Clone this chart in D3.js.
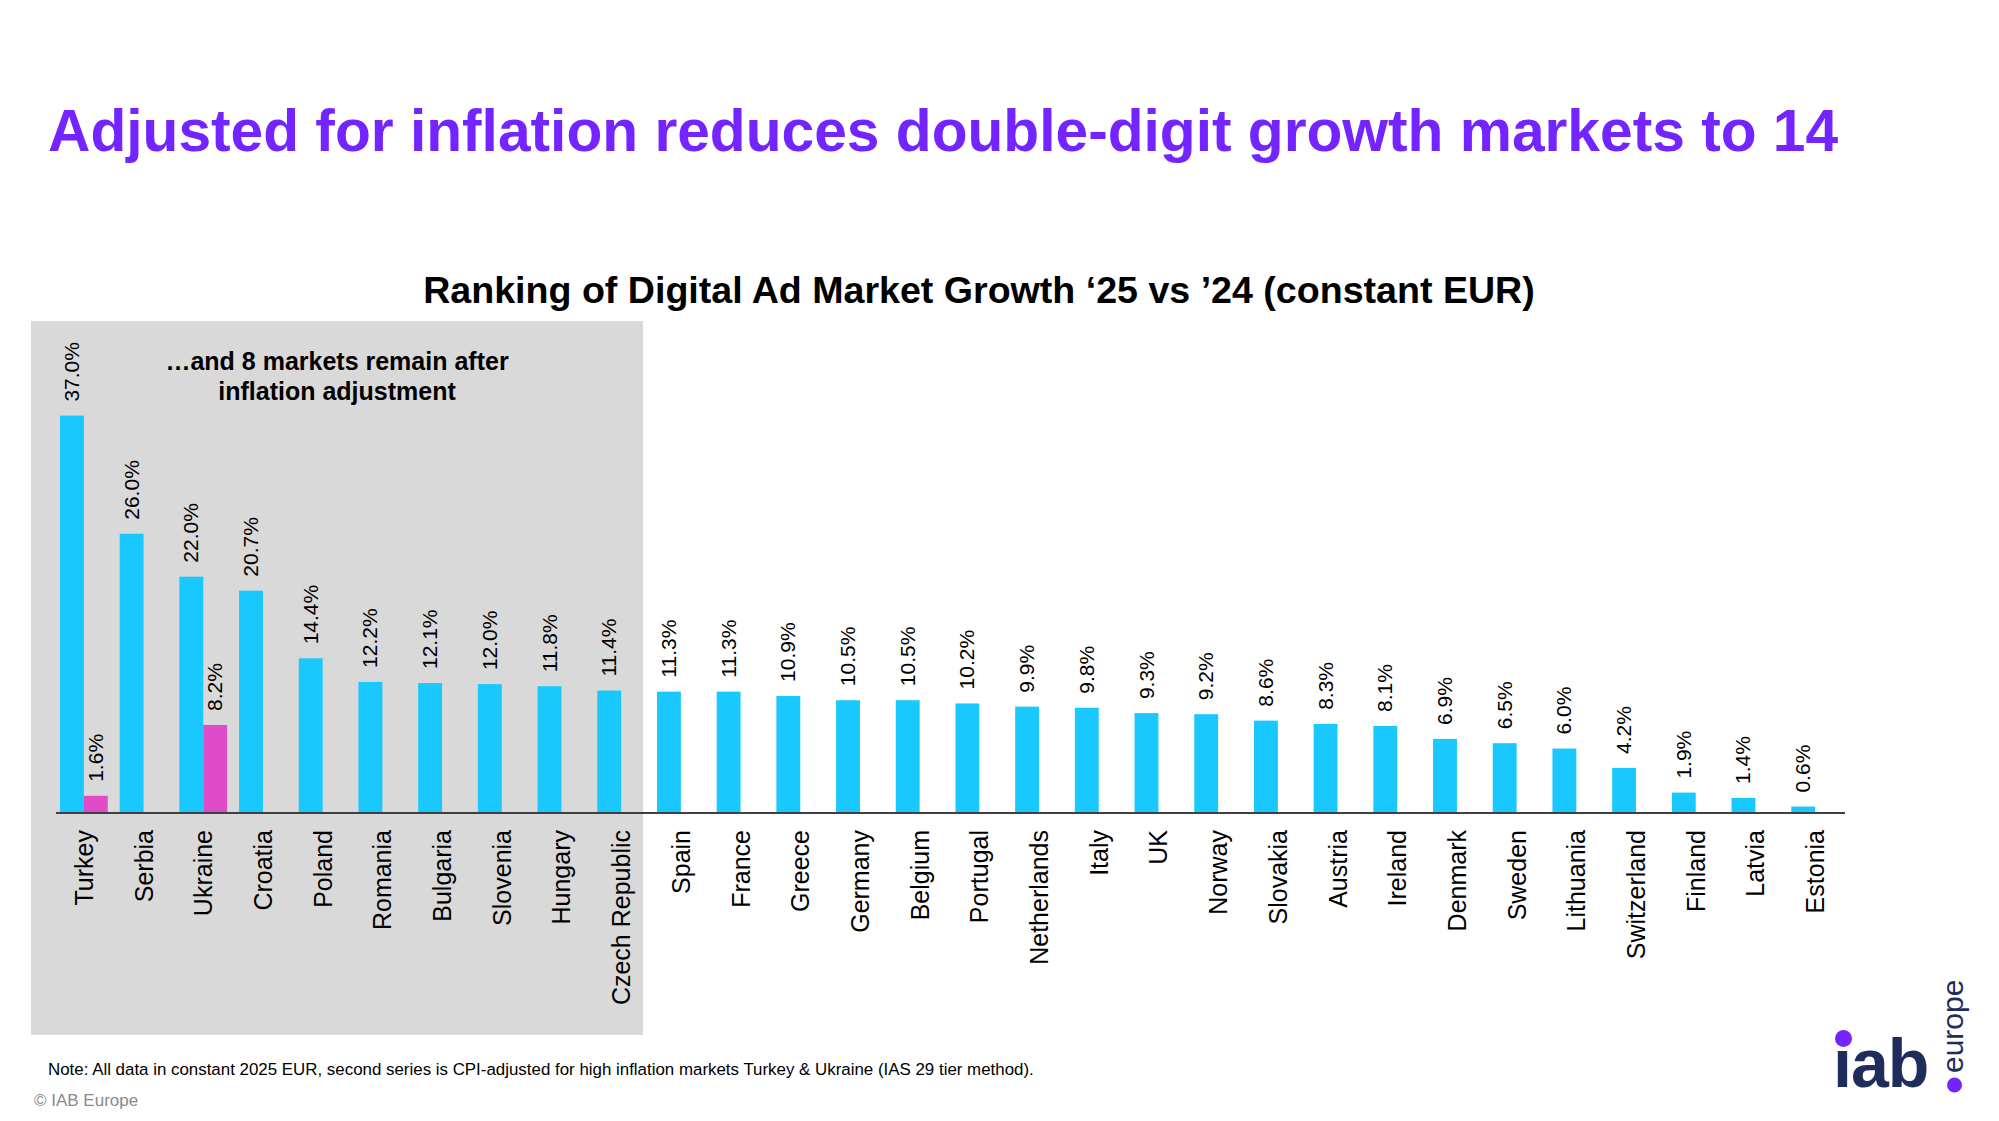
<!DOCTYPE html>
<html>
<head>
<meta charset="utf-8">
<script src="https://cdn.jsdelivr.net/npm/d3@7"></script>
<style>
body { margin: 0; background: #fff; }
text { font-family: "Liberation Sans", Arial, sans-serif; }
</style>
</head>
<body>
<div id="image"></div>
<script>
var categories = ["Turkey", "Serbia", "Ukraine", "Croatia", "Poland", "Romania", "Bulgaria", "Slovenia", "Hungary", "Czech Republic",
    "Spain", "France", "Greece", "Germany", "Belgium", "Portugal", "Netherlands", "Italy", "UK", "Norway",
    "Slovakia", "Austria", "Ireland", "Denmark", "Sweden", "Lithuania", "Switzerland", "Finland", "Latvia", "Estonia"];
var growth = [37.0, 26.0, 22.0, 20.7, 14.4, 12.2, 12.1, 12.0, 11.8, 11.4,
    11.3, 11.3, 10.9, 10.5, 10.5, 10.2, 9.9, 9.8, 9.3, 9.2,
    8.6, 8.3, 8.1, 6.9, 6.5, 6.0, 4.2, 1.9, 1.4, 0.6];
var cpiAdjusted = [1.6, null, 8.2, null, null, null, null, null, null, null,
    null, null, null, null, null, null, null, null, null, null,
    null, null, null, null, null, null, null, null, null, null];
var highlighted = categories.slice(0, 10);
var series = ["growth", "cpi"];
var colors = {growth: "#18c8fe", cpi: "#df4cc8"};

var svg = d3.select("#image").append("svg").attr("width", 1999).attr("height", 1121);

var x = d3.scaleBand()
    .domain(categories)
    .range([60, 1839])
    .paddingInner(0.2);
var x1 = d3.scaleBand()
    .domain(series)
    .range([0, x.bandwidth()]);
var y = d3.scaleLinear()
    .domain([0, 37])
    .range([813, 415.6]);

// grey panel behind the markets still in double digits
var boxLeft = x(highlighted[0]) - 29,
    boxRight = x(highlighted[highlighted.length - 1]) + x.bandwidth() - 2;
svg.append("rect")
    .attr("x", boxLeft)
    .attr("y", 321)
    .attr("width", boxRight - boxLeft)
    .attr("height", 714)
    .attr("fill", "#d9d9d9");

svg.append("text")
    .attr("x", 48).attr("y", 151)
    .attr("font-size", 58.7).attr("font-weight", "bold")
    .attr("fill", "#7424ff")
    .text("Adjusted for inflation reduces double-digit growth markets to 14");

svg.append("text")
    .attr("x", 979).attr("y", 303)
    .attr("text-anchor", "middle")
    .attr("font-size", 37.6).attr("font-weight", "bold")
    .attr("fill", "#000")
    .text("Ranking of Digital Ad Market Growth \u201825 vs \u201924 (constant EUR)");

var note = svg.append("text")
    .attr("x", (boxLeft + boxRight) / 2)
    .attr("text-anchor", "middle")
    .attr("font-size", 25).attr("font-weight", "bold");
note.append("tspan").attr("x", note.attr("x")).attr("y", 370).text("\u2026and 8 markets remain after");
note.append("tspan").attr("x", note.attr("x")).attr("y", 400).text("inflation adjustment");

var rows = categories.map(function(c, i) {
    return {cat: c, vals: [{key: "growth", v: growth[i]}, {key: "cpi", v: cpiAdjusted[i]}].filter(function(d) { return d.v != null; })};
});

var groups = svg.selectAll("g.cat")
    .data(rows)
    .enter().append("g")
    .attr("class", "cat")
    .attr("transform", function(d) { return "translate(" + x(d.cat) + ",0)"; });

groups.selectAll("rect")
    .data(function(d) { return d.vals; })
    .enter().append("rect")
    .attr("x", function(d) { return x1(d.key); })
    .attr("y", function(d) { return y(d.v); })
    .attr("width", x1.bandwidth())
    .attr("height", function(d) { return y(0) - y(d.v); })
    .attr("fill", function(d) { return colors[d.key]; });

groups.selectAll("text.val")
    .data(function(d) { return d.vals; })
    .enter().append("text")
    .attr("class", "val")
    .attr("transform", function(d) {
        return "translate(" + (x1(d.key) + x1.bandwidth() / 2 + 7) + "," + (y(d.v) - 14) + ") rotate(-90)";
    })
    .attr("font-size", 21)
    .attr("fill", "#000")
    .text(function(d) { return d.v.toFixed(1) + "%"; });

var xAxis = svg.append("g")
    .attr("transform", "translate(0," + y(0) + ")")
    .call(d3.axisBottom(x).tickSize(0).tickPadding(0).tickSizeOuter(0));
xAxis.select(".domain").remove();
xAxis.append("line")
    .attr("x1", x.range()[0] - 4).attr("x2", x.range()[1] + 6)
    .attr("stroke", "#404040").attr("stroke-width", 2);
xAxis.selectAll(".tick text")
    .attr("font-family", "Liberation Sans, Arial, sans-serif")
    .attr("font-size", 25)
    .attr("fill", "#000")
    .attr("text-anchor", "end")
    .attr("dy", null)
    .attr("transform", "translate(9,17) rotate(-90)");

svg.append("text")
    .attr("x", 48).attr("y", 1075)
    .attr("font-size", 16.9)
    .attr("fill", "#000")
    .text("Note: All data in constant 2025 EUR, second series is CPI-adjusted for high inflation markets Turkey & Ukraine (IAS 29 tier method).");

svg.append("text")
    .attr("x", 34).attr("y", 1106)
    .attr("font-size", 17)
    .attr("fill", "#8a8a8a")
    .text("\u00a9 IAB Europe");

// iab europe logo
var logo = svg.append("g");
logo.append("text")
    .attr("x", 1833).attr("y", 1087)
    .attr("font-family", "Inter, Roboto, sans-serif")
    .attr("font-size", 68).attr("font-weight", 900)
    .attr("letter-spacing", -1)
    .attr("fill", "#1f2c5c")
    .text("\u0131ab");
logo.append("circle").attr("cx", 1843.5).attr("cy", 1038.5).attr("r", 8.5).attr("fill", "#7424ff");
logo.append("text")
    .attr("transform", "translate(1963,1073) rotate(-90)")
    .attr("font-family", "Inter, Roboto, sans-serif")
    .attr("font-size", 30).attr("font-weight", 500)
    .attr("fill", "#1f2c5c")
    .text("europe");
logo.append("circle").attr("cx", 1954.5).attr("cy", 1085).attr("r", 7.5).attr("fill", "#7424ff");
</script>
</body>
</html>
